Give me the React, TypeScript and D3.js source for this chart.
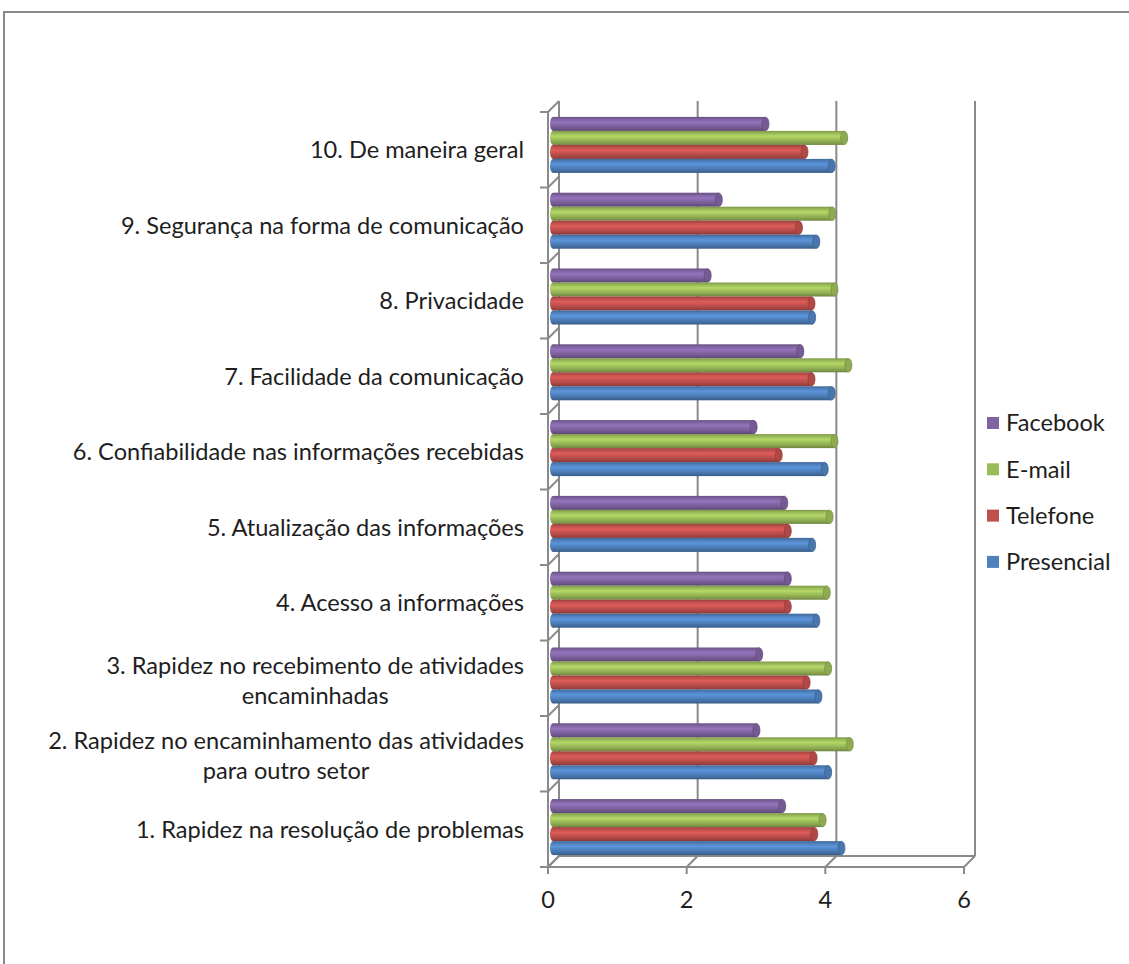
import { useEffect, useRef } from "react";
import * as d3 from "d3";

// categorias de baixo para cima (como no Excel)
const categories = [
  "1. Rapidez na resolução de problemas",
  "2. Rapidez no encaminhamento das atividades\npara outro setor",
  "3. Rapidez no recebimento de atividades\nencaminhadas",
  "4. Acesso a informações",
  "5. Atualização das informações",
  "6. Confiabilidade nas informações recebidas",
  "7. Facilidade da comunicação",
  "8. Privacidade ",
  "9. Segurança na forma de comunicação",
  "10. De maneira geral",
];

const seriesNames = ["Facebook", "E-mail", "Telefone", "Presencial"];
const seriesColors = ["#8064A2", "#9BBB59", "#C0504D", "#4F81BD"];

const facebook = [3.29, 2.92, 2.96, 3.37, 3.32, 2.88, 3.55, 2.22, 2.38, 3.05];
const email = [3.87, 4.26, 3.95, 3.93, 3.97, 4.04, 4.24, 4.04, 4.01, 4.18];
const telefone = [3.75, 3.74, 3.64, 3.37, 3.37, 3.24, 3.71, 3.71, 3.53, 3.61];
const presencial = [4.14, 3.95, 3.81, 3.78, 3.72, 3.9, 4.0, 3.72, 3.78, 4.0];

const xTicks = [0, 2, 4, 6];

const FONT = "Lato, 'Open Sans', sans-serif";
const FS = 23.6;

function App() {
  const ref = useRef<SVGSVGElement>(null);

  useEffect(() => {
    const svg = d3.select(ref.current);
    svg.selectAll("*").remove();

    const values = [facebook, email, telefone, presencial];
    const gray = "#8a8a8a";
    const depthX = 11;
    const depthY = -11;

    // área do gráfico
    svg.append("path")
      .attr("d", "M4,964 L4,12 L1129,12")
      .attr("fill", "none")
      .attr("stroke", gray)
      .attr("stroke-width", 2);

    const xFront = d3.scaleLinear().domain([0, 6]).range([548, 964]);
    const xBar = d3.scaleLinear().domain([0, 6]).range([553, 971]);
    const floorY = 867;
    const topY = 112;

    const yFront = d3.scaleBand<number>()
      .domain(d3.range(categories.length).reverse())
      .range([topY, floorY]);
    const yBar = d3.scaleBand<number>()
      .domain(d3.range(categories.length).reverse())
      .range([107, 865]);

    const grid = svg.append("g").attr("stroke", gray).attr("stroke-width", 2).attr("fill", "none");

    // parede do fundo: linhas de grade
    xTicks.forEach(t => {
      grid.append("line")
        .attr("x1", xFront(t) + depthX).attr("x2", xFront(t) + depthX)
        .attr("y1", topY + depthY).attr("y2", floorY + depthY);
    });
    // chão
    grid.append("line")
      .attr("x1", xFront(0) + depthX).attr("x2", xFront(6) + depthX)
      .attr("y1", floorY + depthY).attr("y2", floorY + depthY);
    grid.append("line")
      .attr("x1", xFront(0)).attr("x2", xFront(6))
      .attr("y1", floorY).attr("y2", floorY);
    xTicks.forEach(t => {
      grid.append("line")
        .attr("x1", xFront(t)).attr("x2", xFront(t) + depthX)
        .attr("y1", floorY).attr("y2", floorY + depthY);
      grid.append("line")
        .attr("x1", xFront(t)).attr("x2", xFront(t))
        .attr("y1", floorY).attr("y2", floorY + 7);
    });
    // parede lateral
    grid.append("line")
      .attr("x1", xFront(0)).attr("x2", xFront(0))
      .attr("y1", topY).attr("y2", floorY);
    const bounds = [topY, ...d3.range(categories.length).map(i => (yFront(i) as number) + yFront.bandwidth())];
    bounds.forEach(b => {
      grid.append("line")
        .attr("x1", xFront(0) - 8).attr("x2", xFront(0))
        .attr("y1", b).attr("y2", b);
      grid.append("line")
        .attr("x1", xFront(0)).attr("x2", xFront(0) + depthX)
        .attr("y1", b).attr("y2", b + depthY);
    });

    // gradientes cilíndricos
    const defs = svg.append("defs");
    seriesColors.forEach((c, i) => {
      const base = d3.color(c)!;
      const g = defs.append("linearGradient")
        .attr("id", "cyl" + i)
        .attr("x1", 0).attr("y1", 0).attr("x2", 0).attr("y2", 1);
      const stops: [number, string][] = [
        [0, base.darker(0.6).formatHex()],
        [0.18, base.formatHex()],
        [0.38, base.brighter(0.4).formatHex()],
        [0.62, base.formatHex()],
        [0.85, base.darker(0.45).formatHex()],
        [1, base.darker(1.0).formatHex()],
      ];
      stops.forEach(([o, col]) => g.append("stop").attr("offset", o).attr("stop-color", col));
    });

    const barH = 14;
    const bars = svg.append("g");
    categories.forEach((_, ci) => {
      const center = (yBar(ci) as number) + yBar.bandwidth() / 2;
      seriesNames.forEach((_, si) => {
        const y = center - (barH * seriesNames.length) / 2 + si * barH;
        const x0 = xBar(0);
        const x1 = xBar(values[si][ci]);
        const base = d3.color(seriesColors[si])!;
        const gb = bars.append("g");
        gb.append("ellipse")
          .attr("cx", x0).attr("cy", y + barH / 2)
          .attr("rx", 3).attr("ry", barH / 2)
          .attr("fill", `url(#cyl${si})`);
        gb.append("rect")
          .attr("x", x0).attr("y", y)
          .attr("width", x1 - x0).attr("height", barH)
          .attr("fill", `url(#cyl${si})`);
        gb.append("ellipse")
          .attr("cx", x1).attr("cy", y + barH / 2)
          .attr("rx", 3.5).attr("ry", barH / 2 - 0.3)
          .attr("fill", base.darker(0.25).formatHex())
          .attr("stroke", base.darker(0.7).formatHex())
          .attr("stroke-width", 0.8);
      });
    });

    // rótulos das categorias
    const labels = svg.append("g")
      .attr("font-family", FONT)
      .attr("font-size", FS)
      .attr("fill", "#1e1e1e");
    categories.forEach((cat, ci) => {
      const lines = cat.split("\n");
      const center = (yFront(ci) as number) + yFront.bandwidth() / 2 + (lines.length > 1 ? 2 : 0);
      const lh = 30;
      const tg = labels.append("g");
      const texts = lines.map((ln, li) =>
        tg.append("text")
          .attr("y", center + (li - (lines.length - 1) / 2) * lh)
          .attr("dy", "0.35em")
          .attr("text-anchor", "middle")
          .text(ln)
      );
      const widths = texts.map(t => (t.node() as SVGTextElement).getComputedTextLength());
      const w = Math.max(...widths);
      texts.forEach(t => t.attr("x", 524 - w / 2));
    });

    // rótulos do eixo x
    svg.append("g")
      .attr("font-family", FONT)
      .attr("font-size", FS)
      .attr("fill", "#1e1e1e")
      .selectAll("text")
      .data(xTicks)
      .join("text")
      .attr("x", d => xFront(d))
      .attr("y", 900)
      .attr("dy", "0.35em")
      .attr("text-anchor", "middle")
      .text(d => d);

    // legenda
    const legend = svg.append("g").attr("font-family", FONT).attr("font-size", FS).attr("fill", "#1e1e1e");
    seriesNames.forEach((name, i) => {
      const cy = 423 + i * 46.3;
      legend.append("rect")
        .attr("x", 987).attr("y", cy - 6)
        .attr("width", 12).attr("height", 12)
        .attr("fill", seriesColors[i]);
      legend.append("text")
        .attr("x", 1006).attr("y", cy)
        .attr("dy", "0.35em")
        .text(name);
    });
  }, []);

  return (
    <svg
      ref={ref}
      width={1129}
      height={964}
      style={{ position: "absolute", left: 0, top: 0, background: "#fff" }}
    />
  );
}

export default App;
